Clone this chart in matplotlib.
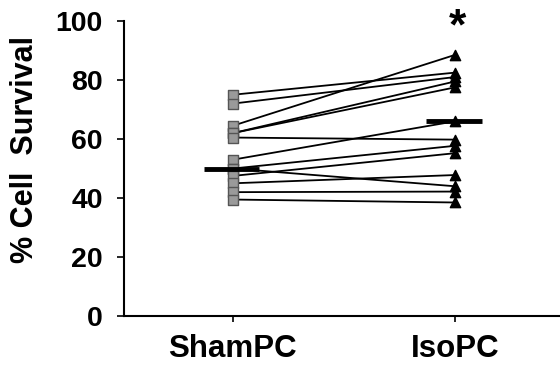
import matplotlib
matplotlib.use('Agg')
import matplotlib.pyplot as plt

# Paired survival values (ShamPC -> IsoPC)
sham = [75, 72, 64.5, 62, 62, 60.5, 53, 50, 50, 47.5, 45, 42, 39.5]
iso = [82.5, 81, 88.5, 79.5, 77.5, 59.8, 66, 57.7, 44, 55.2, 47.8, 42.2, 38.5]
groups = ['ShamPC', 'IsoPC']
means = [50, 66]

plt.rcParams['font.family'] = ['Liberation Sans', 'DejaVu Sans']
plt.rcParams['font.weight'] = 'bold'

fig = plt.figure(figsize=(5.6, 3.68), dpi=100)
ax = fig.add_axes([0.221, 0.141, 0.779, 0.802])

for s, i in zip(sham, iso):
    ax.plot([0, 1], [s, i], color='black', lw=1.3, zorder=2)

ax.scatter([0] * len(sham), sham, marker='s', s=60, color='#9a9a9a',
           edgecolors='#555555', linewidths=1, zorder=3)
ax.scatter([1] * len(iso), iso, marker='^', s=55, color='black', zorder=3)

# mean bars
for x, m in zip([0, 1], means):
    ax.plot([x - 0.13, x + 0.12], [m, m], color='black', lw=3.5,
            solid_capstyle='butt', zorder=4)

ax.text(1.01, 97.8, '*', ha='center', va='center', fontsize=32,
        fontweight='bold', clip_on=False)

ax.set_xlim(-0.491, 1.473)
ax.set_ylim(0, 100)
ax.set_yticks([0, 20, 40, 60, 80, 100])
ax.set_xticks([0, 1])
ax.set_xticklabels(groups, fontsize=22.5, fontweight='bold')
ax.tick_params(axis='y', labelsize=20.5, length=5, width=1.2,
               direction='out', pad=10)
ax.tick_params(axis='x', length=4, width=1.2, direction='out', pad=9)
ax.set_ylabel('% Cell  Survival', fontsize=22, fontweight='bold')
ax.yaxis.set_label_coords(-0.192, 0.563)

ax.spines['top'].set_visible(False)
ax.spines['right'].set_visible(False)
ax.spines['left'].set_linewidth(1.5)
ax.spines['bottom'].set_linewidth(1.5)

fig.savefig('out.png', dpi=100)
